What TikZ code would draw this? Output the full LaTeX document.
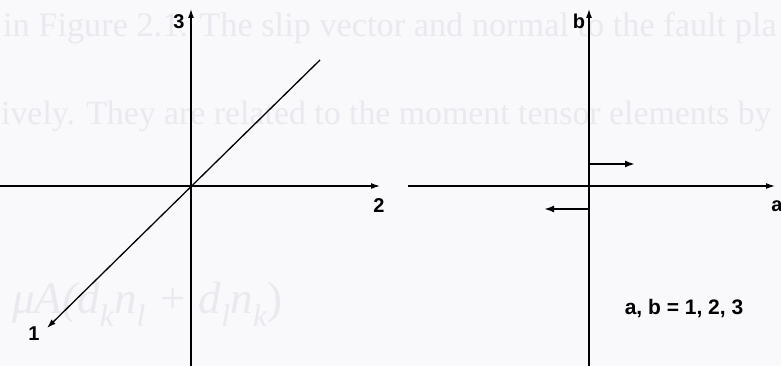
\documentclass[tikz,border=0pt]{standalone}
\usepackage{fontspec}
\setmainfont{Liberation Serif}
\newfontfamily\labfont{Liberation Sans}
\usetikzlibrary{arrows.meta}
\definecolor{bgc}{RGB}{249,249,252}
\definecolor{faint}{RGB}{233,233,239}
\tikzset{
  axis/.style={line width=1.3pt, draw=black},
  axisarrow/.style={axis, -{Latex[length=9pt,width=6pt]}},
  vecarrow/.style={line width=2pt, draw=black, -{Latex[length=10pt,width=7pt]}},
  lab/.style={inner sep=0pt, font=\labfont\bfseries\fontsize{20}{20}\selectfont},
  ghost/.style={inner sep=0pt, text=faint, font=\fontsize{34.3}{34.3}\selectfont}
}
\begin{document}
\begin{tikzpicture}[x=1pt,y=-1pt]
\useasboundingbox (0,0) rectangle (781,366);
\fill[bgc] (0,0) rectangle (781,366);
\begin{scope}
\clip (0,0) rectangle (781,366);
\node[ghost, anchor=base west] (g1) at (3,37) {in Figure 2.1. The slip vector and normal to the fault pla};
\node[ghost, anchor=base west, font=\fontsize{33.8}{33.8}\selectfont] (g2) at (1,125) {ively. They are related to the moment tensor elements by};
\node[ghost, anchor=base west, font=\fontsize{45}{45}\selectfont\itshape] (g3) at (12,313) {μA(d\textsubscript{k}n\textsubscript{l} + d\textsubscript{l}n\textsubscript{k}\upshape)};
\end{scope}
% left system
\coordinate (Ltop) at (191,9);
\coordinate (Lbot) at (191,366);
\coordinate (Lleft) at (0,186);
\coordinate (Lright) at (380,186);
\coordinate (Dtop) at (320,60);
\coordinate (Dbot) at (47,328);
\draw[axisarrow] (Lbot) -- (Ltop);
\draw[axisarrow] (Lleft) -- (Lright);
\draw[axisarrow] (Dtop) -- (Dbot);
\node[lab] (l3) at (179,22) {3};
\node[lab] (l2) at (379,206) {2};
\node[lab] (l1) at (34,334) {1};
% right system
\coordinate (Rtop) at (589,9);
\coordinate (Rbot) at (589,366);
\coordinate (Rleft) at (408,186);
\coordinate (Rright) at (775,186);
\draw[axisarrow] (Rbot) -- (Rtop);
\draw[axisarrow] (Rleft) -- (Rright);
\coordinate (u0) at (589,164);
\coordinate (u1) at (635,164);
\coordinate (d0) at (589,209);
\coordinate (d1) at (544,209);
\draw[vecarrow] (u0) -- (u1);
\draw[vecarrow] (d0) -- (d1);
\node[lab] (lb) at (579,21) {b};
\node[lab] (la) at (777,206) {a};
\node[lab, font=\labfont\bfseries\fontsize{21}{21}\selectfont] (leq) at (684,309) {a, b = 1, 2, 3};
\end{tikzpicture}
\end{document}
